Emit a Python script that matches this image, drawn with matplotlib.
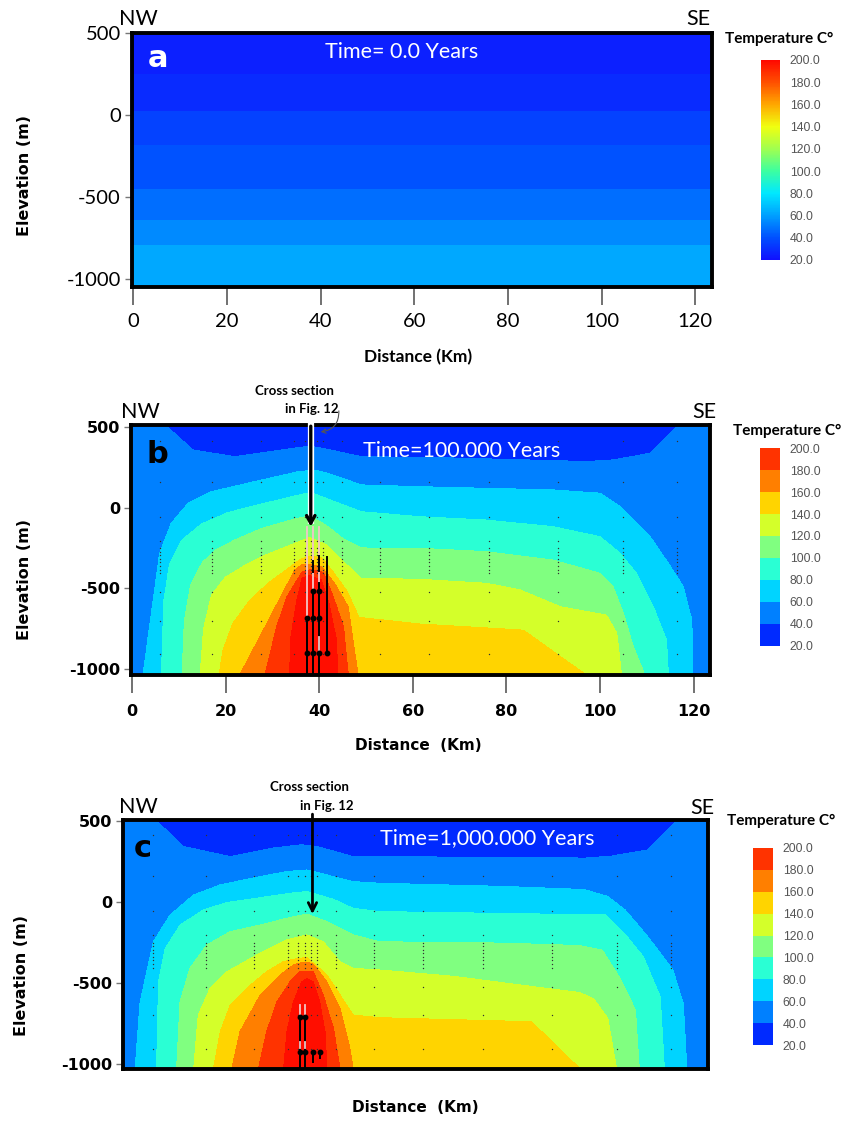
import numpy as np
import matplotlib
matplotlib.use("Agg")
import matplotlib.pyplot as plt
from matplotlib.colors import ListedColormap, BoundaryNorm, LinearSegmentedColormap, Normalize
from matplotlib.cm import ScalarMappable

# ---------------- data ----------------
TEMP_LEVELS = [20, 40, 60, 80, 100, 120, 140, 160, 180, 200]
BIN_COLORS = ['#002AFF', '#0080FF', '#00D4FF', '#2AFFD4', '#80FF80',
              '#D4FF2A', '#FFD400', '#FF7F00', '#FF3300']
CORE_COLOR = '#FF0E00'          # > 200 C

A_CMAP_T = [20, 40, 60, 80, 100, 120, 140, 160, 180, 200]
A_CMAP_COLORS = ['#1010FF', '#0050FF', '#00A0FF', '#00E8FF', '#3CFFA0',
                 '#A0FF50', '#F0FF10', '#FFA800', '#FF5000', '#FF0800']
A_BAND_Z = [520, 254, 29, -183, -447, -640, -793, -1060]
A_BAND_T = [25, 28.5, 36, 41, 48, 54.5, 62.5]

X_TICKS = [0, 20, 40, 60, 80, 100, 120]
Z_TICKS = [500, 0, -500, -1000]
CB_TICKS = [20, 40, 60, 80, 100, 120, 140, 160, 180, 200]

# isotherm elevations (m) along distance (km), panel b (100,000 years)
B40 = ([0, 7.0, 13.0, 21.9, 34.8, 38.0, 40.5, 49.0, 61.5, 80.0, 97.2, 102.8, 110.7, 117.0, 127],
       [600, 515, 357, 316, 368, 382, 368, 316, 312, 298, 285, 295, 337, 515, 600])
B60 = ([0, 2.35, 5.9, 8.4, 12.0, 16.9, 27.6, 35.5, 39.0, 41.9, 49.0, 61.5, 90.0, 100.0, 104.3, 110.7, 114.6, 117.8, 119.6, 119.8, 127],
       [-1300, -1040, -283, -97, 27, 99, 171, 223, 233, 213, 141, 130, 110, 90, 6, -180, -345, -490, -697, -1040, -1300])
B80 = ([0, 6.3, 6.8, 8.0, 10.5, 14.8, 20.5, 27.6, 34.8, 38.2, 41.9, 49.0, 61.5, 75.8, 90.0, 100.0, 104.3, 107.8, 111.4, 114.2, 114.6, 127],
       [-1330, -1040, -576, -349, -205, -102, -30, 22, 73, 94, 53, -25, -56, -77, -118, -180, -283, -407, -614, -821, -1040, -1330])
B100 = ([0, 10.7, 11.2, 12.5, 15.0, 18.0, 22.0, 27.6, 34.8, 38.0, 41.5, 45.0, 49.0, 61.5, 75.8, 90.0, 100.0, 102.8, 105.0, 107.1, 109.6, 127],
        [-1360, -1040, -700, -480, -340, -260, -200, -130, -70, -50, -110, -190, -250, -252, -273, -325, -407, -490, -655, -862, -1040, -1360])
B120 = ([0, 14.6, 15.3, 17.0, 20.0, 24.0, 28.0, 34.8, 38.0, 41.5, 45.0, 49.0, 61.5, 75.8, 82.9, 91.5, 101.4, 103.6, 104.6, 127],
        [-1390, -1040, -750, -540, -430, -360, -300, -221, -185, -230, -330, -438, -444, -469, -510, -614, -666, -779, -1040, -1390])
B140 = ([0, 18.6, 19.5, 21.5, 25.0, 29.0, 33.0, 36.0, 38.0, 40.5, 43.0, 46.0, 48.5, 61.5, 83.6, 97.2, 127],
        [-1420, -1040, -880, -720, -580, -470, -385, -320, -300, -310, -400, -520, -680, -721, -759, -1040, -1420])
B160 = ([0, 23.0, 34.8, 36.2, 38.0, 40.5, 43.3, 46.2, 48.3, 60, 127],
        [-1450, -1040, -386, -355, -350, -366, -469, -614, -1040, -1450, -1450])
B180 = ([0, 28.4, 30.9, 33.1, 36.3, 38.0, 40.9, 43.0, 45.2, 46.2, 60, 127],
        [-1480, -1040, -738, -552, -400, -385, -400, -552, -738, -1040, -1480, -1480])
B200 = ([0, 33.7, 33.8, 35.2, 36.3, 38.0, 40.5, 42.3, 43.7, 44.0, 60, 127],
        [-1510, -1040, -821, -573, -438, -420, -449, -614, -821, -1040, -1510, -1510])

# panel c (1,000,000 years)
C40 = ([0, 6.0, 12.3, 22.3, 31.5, 37.6, 40.8, 48.6, 54.3, 75, 98.3, 103.5, 111.5, 118.2, 127],
       [600, 515, 340, 278, 330, 350, 340, 278, 278, 272, 268, 280, 319, 515, 600])
C60 = ([0, 2.0, 3.1, 5.9, 9.5, 14.5, 20.2, 28.7, 34.4, 38.7, 43.0, 48.6, 54.3, 80, 98, 103.0, 106.7, 111.5, 116.9, 119.1, 119.9, 127],
       [-1300, -1040, -617, -247, -82, 41, 104, 155, 186, 196, 165, 124, 114, 95, 75, 32, -51, -215, -421, -627, -1040, -1300])
C80 = ([0, 6.6, 7.0, 8.4, 11.6, 16.6, 21.6, 28.7, 35.1, 38.7, 44.4, 48.6, 54.3, 80, 102.6, 107.1, 110.6, 114.2, 115.1, 127],
       [-1330, -1040, -494, -288, -144, -50, -5, 25, 52, 63, 15, -41, -61, -72, -82, -215, -339, -585, -1040, -1330])
C100 = ([0, 10.9, 11.6, 13.7, 17.3, 22.3, 28.7, 34.4, 38.7, 43.0, 48.6, 54.3, 80, 97, 101.8, 105.4, 108.9, 109.7, 127],
        [-1360, -1040, -617, -411, -267, -185, -144, -102, -76, -123, -205, -247, -255, -270, -298, -462, -667, -1040, -1360])
C120 = ([0, 14.5, 15.5, 18.0, 21.6, 28.0, 34.4, 38.7, 42.2, 45.8, 48.6, 54.3, 70, 86, 97, 100, 103, 104.9, 127],
        [-1390, -1040, -699, -535, -432, -329, -236, -205, -247, -370, -411, -421, -460, -520, -560, -600, -720, -1040, -1390])
C140 = ([0, 18.7, 20.2, 22.3, 25.8, 30.1, 33.7, 36.5, 38.7, 40.1, 43.0, 45.8, 48.6, 54.3, 86.7, 97.4, 127],
        [-1420, -1040, -802, -638, -535, -432, -370, -352, -345, -380, -452, -576, -699, -715, -740, -1040, -1420])
C160 = ([0, 22.6, 24.4, 28.7, 33.0, 35.8, 37.6, 38.7, 40.1, 43.0, 45.8, 47.9, 48.6, 60, 127],
        [-1450, -1040, -802, -576, -452, -390, -375, -372, -385, -494, -658, -905, -1040, -1450, -1450])
C180 = ([0, 28.3, 30.1, 32.3, 35.1, 37.2, 38.7, 40.1, 42.2, 44.4, 45.8, 60, 127],
        [-1480, -1040, -802, -617, -494, -432, -428, -432, -576, -782, -1040, -1480, -1480])
C200 = ([0, 33.7, 34.4, 35.8, 37.6, 38.7, 40.1, 41.5, 42.6, 43.0, 60, 127],
        [-1510, -1040, -802, -617, -494, -473, -494, -617, -802, -1040, -1510, -1510])

# model mesh nodes
MESH_X = [5.9, 17.2, 27.5, 34.7, 36.9, 38.3, 39.6, 40.9, 44.9, 53.0, 63.5, 76.3, 91.0, 104.9, 116.5]
MESH_Z = [414, 160, -55, -205, -252, -274, -296, -318, -340, -362, -384, -406, -525, -700, -910]

# wells (x, z_top, z_bottom) and well points
B_PALE = [(37.5, -118, -684), (38.7, -118, -517), (40.0, -118, -467)]
B_DARK = [(37.5, -684, -1040), (38.7, -517, -1040), (40.0, -467, -1040), (41.6, -304, -901),
          (38.7, -330, -400), (40.0, -300, -390)]
B_MARK = [(40.0, -800, -883)]
B_DOTS_X = [37.5, 37.5, 38.7, 38.7, 38.7, 40.0, 40.0, 40.0, 41.6]
B_DOTS_Z = [-684, -901, -517, -684, -901, -517, -684, -901, -901]

C_PALE = [(37.2, -637, -709), (38.4, -637, -709)]
C_DARK = [(37.2, -709, -1035), (38.4, -709, -1035), (40.1, -929, -990), (41.5, -929, -965)]
C_MARK = [(37.2, -864, -905), (38.4, -864, -905)]
C_DOTS_X = [37.2, 38.4, 37.2, 38.4, 40.1, 41.5]
C_DOTS_Z = [-709, -709, -929, -929, -929, -929]

B_ARROW_X, B_ARROW_TIP = 38.2, -118
C_ARROW_X, C_ARROW_TIP = 39.9, -76

# ---------------- figure ----------------
W, H = 857, 1121
fig = plt.figure(figsize=(W / 100, H / 100), dpi=100)
fig.patch.set_facecolor('white')

LATO = ['Lato', 'DejaVu Sans']
DJ = ['DejaVu Sans']
ARIAL = ['Liberation Sans', 'DejaVu Sans']


def add_ax(l, r, t, b):
    return fig.add_axes([l / W, 1 - b / H, (r - l) / W, (b - t) / H])


def ftext(px, py, s, **kw):
    fig.text(px / W, 1 - py / H, s, ha=kw.pop('ha', 'center'), va=kw.pop('va', 'center'), **kw)


def build_field(isos, levels, xg, zg):
    Z = np.array([np.interp(xg, xs, zs) for xs, zs in isos])
    for k in range(1, len(isos)):
        Z[k] = np.minimum(Z[k], Z[k - 1] - 1.0)
    T = np.empty((len(zg), len(xg)))
    tp = np.concatenate(([21.0], np.asarray(levels, float), [259.0]))
    for j in range(len(xg)):
        zp = np.concatenate(([5000.0], Z[:, j], [-5000.0]))
        T[:, j] = np.interp(-zg, -zp, tp)
    return T


def style_axes(ax, xlim, ylim, xticks=True, big=False):
    ax.set_xlim(*xlim)
    ax.set_ylim(*ylim)
    for s in ax.spines.values():
        s.set_linewidth(2.8)
        s.set_color('black')
    ax.set_yticks(Z_TICKS)
    ax.set_yticklabels([str(v) for v in Z_TICKS])
    ax.tick_params(axis='y', direction='out', length=5, width=1.0, color='#777777', pad=3)
    if xticks:
        ax.set_xticks(X_TICKS)
        ax.set_xticklabels([str(v) for v in X_TICKS])
        ax.tick_params(axis='x', direction='out', length=13, width=1.3, color='#666666',
                       pad=6 if big else 8)
    else:
        ax.set_xticks([])
    for lab in ax.get_xticklabels() + ax.get_yticklabels():
        if big:
            lab.set_fontfamily(LATO)
            lab.set_fontsize(14.5)
        else:
            lab.set_fontfamily(DJ)
            lab.set_fontweight('bold')
            lab.set_fontsize(11.5)


def draw_colorbar(cax, cmap, norm):
    cb = fig.colorbar(ScalarMappable(norm=norm, cmap=cmap), cax=cax, ticks=CB_TICKS)
    cb.outline.set_visible(False)
    cb.set_ticklabels([f'{t:.1f}' for t in CB_TICKS])
    cax.tick_params(length=0, pad=7, labelsize=8.8, labelcolor='#555555')
    for lab in cax.get_yticklabels():
        lab.set_fontfamily(ARIAL)
    return cb


xg = np.linspace(-3, 128, 1311)
zg = np.linspace(-1100, 650, 876)
fill_levels = [0] + TEMP_LEVELS[1:] + [1000]
fill_colors = BIN_COLORS + [CORE_COLOR]
disc_cmap = ListedColormap(BIN_COLORS)
disc_norm = BoundaryNorm(TEMP_LEVELS, len(BIN_COLORS))
a_cmap = LinearSegmentedColormap.from_list(
    'a_rainbow', [((t - 20) / 180.0, c) for t, c in zip(A_CMAP_T, A_CMAP_COLORS)])
a_norm = Normalize(20, 200)

mx, mz = np.meshgrid(MESH_X, MESH_Z)

# ---------------- panel a ----------------
ax_a = add_ax(132, 712, 33, 287)
zb = np.array(A_BAND_Z[::-1], float)
tb = np.array(A_BAND_T[::-1], float)[:, None]
ax_a.pcolormesh([-3, 128], zb, tb, cmap=a_cmap, norm=a_norm, shading='flat')
style_axes(ax_a, (-0.3, 123.6), (-1047, 502), xticks=True, big=True)
ax_a.text(0.045, 0.9, 'a', transform=ax_a.transAxes, color='white', fontsize=22,
          fontweight='bold', family=DJ, ha='center', va='center')
ftext(402, 52, 'Time= 0.0 Years', color='white', fontsize=15.5, family=LATO)
ftext(138, 19, 'NW', fontsize=15.5, family=LATO)
ftext(698, 19, 'SE', fontsize=15.5, family=LATO)
ftext(418, 357, 'Distance (Km)', fontsize=12.5, fontweight='bold', family=LATO)
ftext(25, 175, 'Elevation (m)', rotation=90, fontsize=11.5, fontweight='bold', family=DJ)
cax_a = add_ax(761, 780, 60, 260)
draw_colorbar(cax_a, a_cmap, a_norm)
ftext(779, 39, 'Temperature C°', fontsize=11, fontweight='bold', family=LATO)

# ---------------- panel b ----------------
ax_b = add_ax(131, 710, 425.5, 675)
Tb = build_field([B40, B60, B80, B100, B120, B140, B160, B180, B200], TEMP_LEVELS[1:], xg, zg)
ax_b.contourf(xg, zg, Tb, levels=fill_levels, colors=fill_colors)
ax_b.scatter(mx.ravel(), mz.ravel(), s=1.0, c='#333333', linewidths=0, zorder=3)
style_axes(ax_b, (-0.21, 123.5), (-1037.6, 509.3), xticks=True, big=False)
for x, z0, z1 in B_PALE:
    ax_b.plot([x, x], [z0, z1], color='#F2C6C6', lw=1.3, zorder=4)
for x, z0, z1 in B_DARK:
    ax_b.plot([x, x], [z0, z1], color='black', lw=1.4, zorder=4)
for x, z0, z1 in B_MARK:
    ax_b.plot([x, x], [z0, z1], color='#F2C6C6', lw=1.3, zorder=4)
ax_b.plot(B_DOTS_X, B_DOTS_Z, 'o', color='black', ms=3.2, zorder=5)
ax_b.plot([B_ARROW_X, B_ARROW_X], [545, B_ARROW_TIP + 15], color='white', lw=4.5,
          solid_capstyle='butt', clip_on=False, zorder=6)
ax_b.annotate('', xy=(B_ARROW_X, B_ARROW_TIP), xytext=(B_ARROW_X, 505),
              arrowprops=dict(arrowstyle='->,head_length=0.55,head_width=0.3', lw=2.4,
                              color='black', shrinkA=0, shrinkB=0),
              annotation_clip=False, zorder=7)
ax_b.annotate('', xy=(40.3, 470), xytext=(44.2, 600),
              arrowprops=dict(arrowstyle='->,head_length=0.3,head_width=0.15', lw=0.8,
                              color='#555555', connectionstyle='arc3,rad=-0.45',
                              shrinkA=0, shrinkB=0),
              annotation_clip=False, zorder=7)
ax_b.text(0.045, 0.885, 'b', transform=ax_b.transAxes, color='black', fontsize=22,
          fontweight='bold', family=DJ, ha='center', va='center')
ftext(462, 451, 'Time=100.000 Years', color='white', fontsize=15.5, family=LATO)
ftext(140, 412, 'NW', fontsize=15.5, family=LATO)
ftext(704, 412, 'SE', fontsize=15.5, family=LATO)
ftext(294, 391, 'Cross section', fontsize=9.5, fontweight='bold', family=LATO)
ftext(312, 409, 'in Fig. 12', fontsize=9.5, fontweight='bold', family=LATO)
ftext(418, 746, 'Distance  (Km)', fontsize=11, fontweight='bold', family=DJ)
ftext(25, 580, 'Elevation (m)', rotation=90, fontsize=11.5, fontweight='bold', family=DJ)
cax_b = add_ax(760, 780, 448, 646)
draw_colorbar(cax_b, disc_cmap, disc_norm)
ftext(787, 431, 'Temperature C°', fontsize=11, fontweight='bold', family=LATO)

# ---------------- panel c ----------------
ax_c = add_ax(123, 708, 820, 1069)
Tc = build_field([C40, C60, C80, C100, C120, C140, C160, C180, C200], TEMP_LEVELS[1:], xg, zg)
ax_c.contourf(xg, zg, Tc, levels=fill_levels, colors=fill_colors)
ax_c.scatter(mx.ravel(), mz.ravel(), s=1.0, c='#333333', linewidths=0, zorder=3)
style_axes(ax_c, (-0.58, 124.4), (-1032, 504), xticks=False, big=False)
for x, z0, z1 in C_PALE:
    ax_c.plot([x, x], [z0, z1], color='#F2C6C6', lw=1.3, zorder=4)
for x, z0, z1 in C_DARK:
    ax_c.plot([x, x], [z0, z1], color='black', lw=1.4, zorder=4)
for x, z0, z1 in C_MARK:
    ax_c.plot([x, x], [z0, z1], color='#F2C6C6', lw=1.3, zorder=4)
ax_c.plot(C_DOTS_X, C_DOTS_Z, 'o', color='black', ms=3.2, zorder=5)
ax_c.annotate('', xy=(C_ARROW_X, C_ARROW_TIP), xytext=(C_ARROW_X, 540),
              arrowprops=dict(arrowstyle='->,head_length=0.6,head_width=0.3', lw=2.0,
                              color='black', shrinkA=0, shrinkB=0),
              annotation_clip=False, zorder=7)
ax_c.text(0.033, 0.885, 'c', transform=ax_c.transAxes, color='black', fontsize=22,
          fontweight='bold', family=DJ, ha='center', va='center')
ftext(487, 838, 'Time=1,000.000 Years', color='white', fontsize=15.5, family=LATO)
ftext(138, 807, 'NW', fontsize=15.5, family=LATO)
ftext(702, 808, 'SE', fontsize=15.5, family=LATO)
ftext(309, 787, 'Cross section', fontsize=9.5, fontweight='bold', family=LATO)
ftext(327, 806, 'in Fig. 12', fontsize=9.5, fontweight='bold', family=LATO)
ftext(415, 1108, 'Distance  (Km)', fontsize=11, fontweight='bold', family=DJ)
ftext(22, 975, 'Elevation (m)', rotation=90, fontsize=11.5, fontweight='bold', family=DJ)
cax_c = add_ax(753, 773, 848, 1045)
draw_colorbar(cax_c, disc_cmap, disc_norm)
ftext(781, 821, 'Temperature C°', fontsize=11, fontweight='bold', family=LATO)

fig.savefig('out.png', dpi=100)
